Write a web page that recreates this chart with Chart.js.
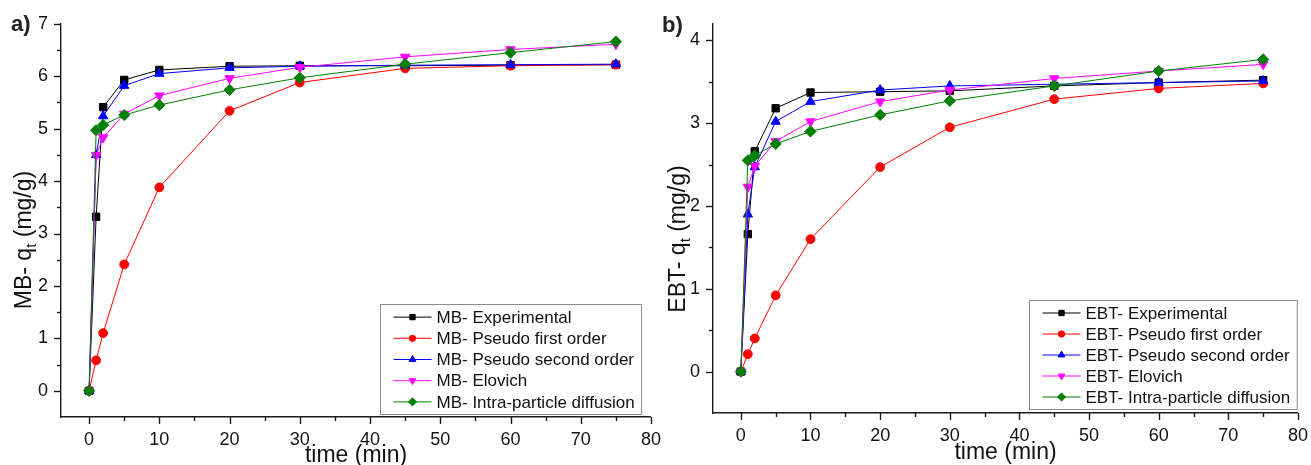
<!DOCTYPE html>
<html>
<head>
<meta charset="utf-8">
<title>Adsorption kinetics – MB and EBT</title>
<script src="https://cdn.jsdelivr.net/npm/chart.js@4"></script>
<style>
  html, body { margin: 0; padding: 0; background: #fff; }
  #wrap { position: relative; width: 1311px; height: 465px; overflow: hidden; }
  canvas { position: absolute; top: 0; }
  #chartMB { left: 0; }
  #chartEBT { left: 650px; }
</style>
</head>
<body>
<div id="wrap">
  <canvas id="chartMB" width="673" height="465"></canvas>
  <canvas id="chartEBT" width="670" height="465"></canvas>
</div>
<script>
/* ---------- data ---------- */
const times = [0, 1, 2, 5, 10, 20, 30, 45, 60, 75];

const modelNames = ['Experimental', 'Pseudo first order', 'Pseudo second order', 'Elovich', 'Intra-particle diffusion'];

// MB uptake q_t (mg/g)
const mbExperimental = [0, 3.32, 5.41, 5.93, 6.12, 6.19, 6.20, 6.20, 6.21, 6.22];
const mbPseudoFirst  = [0, 0.58, 1.10, 2.41, 3.88, 5.34, 5.88, 6.15, 6.20, 6.22];
const mbPseudoSecond = [0, 4.50, 5.24, 5.82, 6.05, 6.16, 6.19, 6.21, 6.22, 6.23];
const mbElovich      = [0, 4.49, 4.83, 5.28, 5.63, 5.96, 6.17, 6.37, 6.51, 6.61];
const mbIntraPart    = [0, 4.97, 5.07, 5.26, 5.45, 5.74, 5.97, 6.23, 6.45, 6.66];

// EBT uptake q_t (mg/g)
const ebtExperimental = [0, 1.66, 2.66, 3.18, 3.37, 3.38, 3.39, 3.45, 3.49, 3.52];
const ebtPseudoFirst  = [0, 0.21, 0.40, 0.92, 1.60, 2.47, 2.95, 3.29, 3.42, 3.48];
const ebtPseudoSecond = [0, 1.90, 2.47, 3.02, 3.26, 3.40, 3.45, 3.47, 3.49, 3.51];
const ebtElovich      = [0, 2.23, 2.48, 2.78, 3.02, 3.26, 3.40, 3.54, 3.63, 3.71];
const ebtIntraPart    = [0, 2.55, 2.61, 2.75, 2.90, 3.10, 3.27, 3.45, 3.63, 3.77];

/* ---------- styles ---------- */
const FONT = '"Liberation Sans", Arial, Helvetica, sans-serif';
const AXIS_COLOR = '#1a1a1a';
const seriesStyle = [
  { color: '#000000', pointStyle: 'rect',     radius: 5.2, rotation: 0 },
  { color: '#ff0000', pointStyle: 'circle',   radius: 4.4, rotation: 0 },
  { color: '#0000ff', pointStyle: 'triangle', radius: 5.4, rotation: 0 },
  { color: '#ff00ff', pointStyle: 'triangle', radius: 5.4, rotation: 180 },
  { color: '#007f00', pointStyle: 'rectRot',  radius: 5.6, rotation: 0 }
];

function makeDatasets(prefix, seriesList) {
  return seriesList.map((values, i) => {
    const s = seriesStyle[i];
    return {
      label: prefix + ' ' + modelNames[i],
      data: times.map((t, k) => ({ x: t, y: values[k] })),
      borderColor: s.color,
      backgroundColor: s.color,
      borderWidth: 1,
      pointStyle: s.pointStyle,
      pointRotation: s.rotation,
      pointRadius: s.radius,
      pointBorderWidth: 1,
      pointBorderColor: s.color,
      pointBackgroundColor: s.color,
      tension: 0,
      // later series sit on top, like the original plot order
      order: seriesList.length - i
    };
  });
}

/* ---------- plugins ---------- */

// Origin-style outward ticks: long for labelled values, short for the halves
const outwardTicks = {
  id: 'outwardTicks',
  afterDraw(chart) {
    const { ctx } = chart;
    const { x, y } = chart.scales;
    ctx.save();
    ctx.strokeStyle = AXIS_COLOR;
    ctx.lineWidth = 1.4;
    x.ticks.forEach(t => {
      const px = Math.round(x.getPixelForValue(t.value)) + 0.5;
      const len = t.value % 10 === 0 ? 7 : 4;
      ctx.beginPath();
      ctx.moveTo(px, x.top);
      ctx.lineTo(px, x.top + len);
      ctx.stroke();
    });
    y.ticks.forEach(t => {
      if (t.value < 0) return;
      const py = Math.round(y.getPixelForValue(t.value)) + 0.5;
      const len = Number.isInteger(t.value) ? 7 : 4;
      ctx.beginPath();
      ctx.moveTo(y.right, py);
      ctx.lineTo(y.right - len, py);
      ctx.stroke();
    });
    ctx.restore();
  }
};

// panel letter, y title with subscript t, and boxed legend with line+marker samples
const panelDeco = {
  id: 'panelDeco',
  afterDraw(chart, args, opts) {
    const { ctx, chartArea } = chart;
    ctx.save();

    // panel letter
    ctx.fillStyle = '#222';
    ctx.font = 'bold 22px ' + FONT;
    ctx.textBaseline = 'alphabetic';
    ctx.textAlign = 'left';
    ctx.fillText(opts.letter, opts.letterX, opts.letterY);

    // rotated y title: "<dye>- q" + subscript t + " (mg/g)"
    const big = '23px ' + FONT, small = '15px ' + FONT;
    const partA = opts.dye + '- q', partB = 't', partC = ' (mg/g)';
    ctx.font = big;
    const wA = ctx.measureText(partA).width, wC = ctx.measureText(partC).width;
    ctx.font = small;
    const wB = ctx.measureText(partB).width;
    const total = wA + wB + wC;
    ctx.translate(opts.titleX, opts.titleY);
    ctx.rotate(-Math.PI / 2);
    ctx.fillStyle = '#111';
    let cx = -total / 2;
    ctx.font = big;
    ctx.fillText(partA, cx, 8);
    cx += wA;
    ctx.font = small;
    ctx.fillText(partB, cx, 13);
    cx += wB;
    ctx.font = big;
    ctx.fillText(partC, cx, 8);
    ctx.setTransform(1, 0, 0, 1, 0, 0);

    // legend box
    const lg = opts.legend;
    const datasets = chart.data.datasets;
    ctx.font = lg.fontSize + 'px ' + FONT;
    const textW = Math.max(...datasets.map(d => ctx.measureText(d.label).width));
    const boxW = 56 + textW + 7;
    const boxH = lg.rowH * datasets.length + 2 * lg.padY;
    const bx = Math.round(chartArea.right - lg.right - boxW) + 0.5;
    const by = Math.round(chartArea.bottom - lg.bottom - boxH) + 0.5;
    ctx.fillStyle = '#fff';
    ctx.fillRect(bx, by, boxW, boxH);
    ctx.strokeStyle = '#8c8c8c';
    ctx.lineWidth = 1;
    ctx.strokeRect(bx, by, boxW, boxH);

    datasets.forEach((d, i) => {
      const cy = by + lg.padY + lg.rowH * (i + 0.5);
      ctx.strokeStyle = d.borderColor;
      ctx.lineWidth = 1;
      ctx.beginPath();
      ctx.moveTo(bx + 13, cy);
      ctx.lineTo(bx + 51, cy);
      ctx.stroke();
      ctx.fillStyle = d.pointBackgroundColor;
      ctx.strokeStyle = d.pointBorderColor;
      Chart.helpers.drawPoint(ctx, {
        pointStyle: d.pointStyle,
        rotation: d.pointRotation,
        radius: d.pointRadius * 0.72,
        borderWidth: 1
      }, bx + 32, cy);
      ctx.fillStyle = '#111';
      ctx.textBaseline = 'middle';
      ctx.fillText(d.label, bx + 56, cy + 1);
    });
    ctx.restore();
  }
};

/* ---------- chart builder ---------- */
function buildChart(canvasId, dye, seriesList, cfg) {
  const tickFont = { family: FONT, size: 18 };
  return new Chart(document.getElementById(canvasId), {
    type: 'line',
    data: { datasets: makeDatasets(dye + '-', seriesList) },
    options: {
      responsive: false,
      animation: false,
      events: [],
      // right padding leaves room for the half-width of the "80" label
      layout: { padding: { top: cfg.padTop, right: 22, left: 0, bottom: 0 } },
      elements: { line: { tension: 0 } },
      plugins: {
        legend: { display: false },
        tooltip: { enabled: false },
        panelDeco: cfg.deco
      },
      scales: {
        x: {
          type: 'linear',
          min: -4,
          max: 80,
          afterFit: s => { s.height = cfg.xAxisH; },
          grid: { display: false, drawTicks: false },
          border: { display: true, color: AXIS_COLOR, width: 1.4 },
          ticks: {
            stepSize: 5,
            autoSkip: false,
            includeBounds: false,
            maxRotation: 0,
            padding: 12,
            color: '#111',
            font: tickFont,
            callback: v => (v % 10 === 0 ? v : '')
          },
          title: {
            display: true,
            text: 'time (min)',
            color: '#111',
            font: { family: FONT, size: 23, lineHeight: 1 },
            padding: { top: 0, bottom: cfg.xTitlePad }
          }
        },
        y: {
          type: 'linear',
          min: -0.5,
          max: cfg.yMax,
          afterFit: s => { s.width = cfg.yAxisW; },
          grid: { display: false, drawTicks: false },
          border: { display: true, color: AXIS_COLOR, width: 1.4 },
          ticks: {
            stepSize: 0.5,
            autoSkip: false,
            includeBounds: false,
            padding: 13,
            color: '#111',
            font: tickFont,
            callback: v => (Number.isInteger(v) && v >= 0 ? v : '')
          }
        }
      }
    },
    plugins: [outwardTicks, panelDeco]
  });
}

buildChart('chartMB', 'MB',
  [mbExperimental, mbPseudoFirst, mbPseudoSecond, mbElovich, mbIntraPart],
  {
    padTop: 23, yAxisW: 61, xAxisH: 48, yMax: 7, xTitlePad: -2,
    deco: {
      letter: 'a)', letterX: 11, letterY: 31, dye: 'MB', titleX: 23, titleY: 240,
      legend: { right: 10, bottom: 3, rowH: 21.2, padY: 2, fontSize: 17 }
    }
  });

buildChart('chartEBT', 'EBT',
  [ebtExperimental, ebtPseudoFirst, ebtPseudoSecond, ebtElovich, ebtIntraPart],
  {
    padTop: 21, yAxisW: 63, xAxisH: 52, yMax: 4.2, xTitlePad: 1,
    deco: {
      letter: 'b)', letterX: 12, letterY: 32, dye: 'EBT', titleX: 27, titleY: 239,
      legend: { right: 1, bottom: 4, rowH: 21, padY: 2, fontSize: 17 }
    }
  });
</script>
</body>
</html>
